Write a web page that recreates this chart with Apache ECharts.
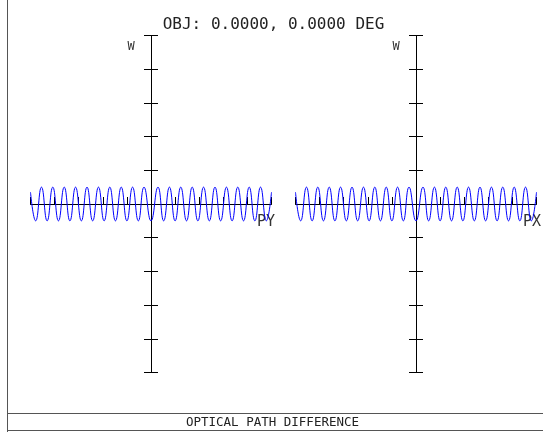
<!DOCTYPE html>
<html>
<head>
<meta charset="utf-8">
<script src="https://cdn.jsdelivr.net/npm/echarts@6/dist/echarts.min.js"></script>
<style>html,body{margin:0;padding:0;background:#fff;}#c{width:543px;height:432px;}</style>
</head>
<body>
<div id="c"></div>
<script>
// Normalized pupil coordinate (extrema positions)
const pupilCoords = [-1.0, -0.957, -0.909, -0.862, -0.815, -0.768, -0.720, -0.673, -0.626, -0.578, -0.531, -0.484, -0.436, -0.389, -0.342, -0.295, -0.247, -0.200, -0.153, -0.105, -0.058, 0, 0.058, 0.105, 0.153, 0.200, 0.247, 0.295, 0.342, 0.389, 0.436, 0.484, 0.531, 0.578, 0.626, 0.673, 0.720, 0.768, 0.815, 0.862, 0.909, 0.957, 1.0];
// Tangential fan (PY), waves
const tangentialW = [0.07, -0.1, 0.1, -0.1, 0.1, -0.1, 0.1, -0.1, 0.1, -0.1, 0.1, -0.1, 0.1, -0.1, 0.1, -0.1, 0.1, -0.1, 0.1, -0.1, 0.1, -0.1, 0.1, -0.1, 0.1, -0.1, 0.1, -0.1, 0.1, -0.1, 0.1, -0.1, 0.1, -0.1, 0.1, -0.1, 0.1, -0.1, 0.1, -0.1, 0.1, -0.1, 0.07];
// Sagittal fan (PX), waves
const sagittalW = [0.07, -0.1, 0.1, -0.1, 0.1, -0.1, 0.1, -0.1, 0.1, -0.1, 0.1, -0.1, 0.1, -0.1, 0.1, -0.1, 0.1, -0.1, 0.1, -0.1, 0.1, -0.1, 0.1, -0.1, 0.1, -0.1, 0.1, -0.1, 0.1, -0.1, 0.1, -0.1, 0.1, -0.1, 0.1, -0.1, 0.1, -0.1, 0.1, -0.1, 0.1, -0.1, 0.07];

const titleText = 'OBJ: 0.0000, 0.0000 DEG';
const footerText = 'OPTICAL PATH DIFFERENCE';
const yName = 'W';
const xNames = ['PY', 'PX'];

const mono = '"DejaVu Sans Mono", monospace';
const chart = echarts.init(document.getElementById('c'), null, {renderer: 'canvas'});

function xAx(gi, show) {
  return {
    type: 'value', gridIndex: gi, min: -1, max: 1, interval: 0.2, show: show,
    axisLine: {onZero: show, lineStyle: {color: '#000', width: 1}},
    axisTick: {show: true, inside: true, length: 7, lineStyle: {color: '#000'}},
    axisLabel: {show: false}, splitLine: {show: false}
  };
}
function yAx(gi, inside, line, zeroIdx) {
  return {
    type: 'value', gridIndex: gi, min: -1, max: 1, interval: 0.2, position: 'left',
    axisLine: {show: line, onZero: true, onZeroAxisIndex: zeroIdx, lineStyle: {color: '#000', width: 1}},
    axisTick: {show: true, inside: inside, length: 7, lineStyle: {color: '#000'}},
    axisLabel: {show: false}, splitLine: {show: false}
  };
}

const option = {
  animation: false,
  backgroundColor: '#fff',
  grid: [
    {left: 30.5, width: 241, top: 35.5, height: 337},
    {left: 295.5, width: 241, top: 35.5, height: 337}
  ],
  xAxis: [xAx(0, true), xAx(1, true), xAx(0, false), xAx(1, false)],
  yAxis: [yAx(0, true, true, 0), yAx(0, false, false, 2), yAx(1, true, true, 1), yAx(1, false, false, 3)],
  series: [
    {type: 'line', xAxisIndex: 0, yAxisIndex: 0, smooth: true, showSymbol: false,
     lineStyle: {color: '#0000ff', width: 1}, data: pupilCoords.map((p, i) => [p, tangentialW[i]])},
    {type: 'line', xAxisIndex: 1, yAxisIndex: 2, smooth: true, showSymbol: false,
     lineStyle: {color: '#0000ff', width: 1}, data: pupilCoords.map((p, i) => [p, sagittalW[i]])}
  ],
  graphic: [
    {type: 'line', shape: {x1: 7.5, y1: 0, x2: 7.5, y2: 432}, style: {stroke: '#555', lineWidth: 1}},
    {type: 'line', shape: {x1: 7, y1: 413.5, x2: 543, y2: 413.5}, style: {stroke: '#555', lineWidth: 1}},
    {type: 'line', shape: {x1: 7, y1: 430.5, x2: 543, y2: 430.5}, style: {stroke: '#555', lineWidth: 1}},
    {type: 'text', x: 273.5, y: 25, style: {text: titleText, font: '16px ' + mono, fill: '#222', align: 'center', verticalAlign: 'middle'}},
    {type: 'text', x: 272.5, y: 422.5, style: {text: footerText, font: '12.5px ' + mono, fill: '#222', align: 'center', verticalAlign: 'middle'}},
    {type: 'text', x: 131, y: 47, style: {text: yName, font: '12px ' + mono, fill: '#333', align: 'center', verticalAlign: 'middle'}},
    {type: 'text', x: 396, y: 47, style: {text: yName, font: '12px ' + mono, fill: '#333', align: 'center', verticalAlign: 'middle'}},
    {type: 'text', x: 266, y: 222, style: {text: xNames[0], font: '15px ' + mono, fill: '#333', align: 'center', verticalAlign: 'middle'}},
    {type: 'text', x: 532, y: 222, style: {text: xNames[1], font: '15px ' + mono, fill: '#333', align: 'center', verticalAlign: 'middle'}}
  ]
};
chart.setOption(option);
</script>
</body>
</html>
